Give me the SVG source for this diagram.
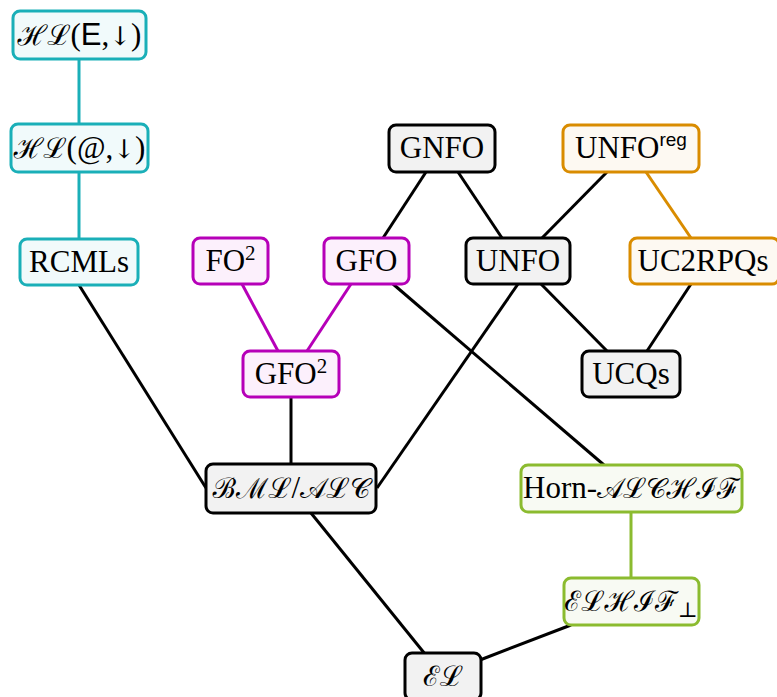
<svg xmlns="http://www.w3.org/2000/svg" width="777" height="697" viewBox="0 0 777 697">
<style>
.n rect{stroke-width:3}
.teal rect{stroke:#1AAFB8;fill:#F1FAFB}
.mag rect{stroke:#B600B8;fill:#FCF0FC}
.org rect{stroke:#D98C00;fill:#FDF9F2}
.grn rect{stroke:#8BBB2F;fill:#F8FAF3}
.gry rect{stroke:#000;fill:#F2F2F2}
text{font-family:"Liberation Serif","DejaVu Serif",serif;font-size:31px;fill:#000;text-anchor:middle}
.cal{font-family:"DejaVu Serif","Noto Sans","DejaVu Sans",serif;font-size:28px}
.sf{font-family:"Liberation Sans","DejaVu Sans",sans-serif}
.ar{font-family:"DejaVu Serif",serif;font-size:26px}
#edges line{stroke-width:3;stroke-linecap:butt}
.k{stroke:#000}
.t{stroke:#1AAFB8}
.m{stroke:#B600B8}
.o{stroke:#D98C00}
.g{stroke:#8BBB2F}
</style>
<g id="edges">
<line class="t" x1="79" y1="59" x2="79" y2="124"/>
<line class="t" x1="79" y1="172" x2="79" y2="239"/>
<line class="k" x1="79" y1="285" x2="206" y2="488"/>
<line class="m" x1="242" y1="284" x2="278" y2="351"/>
<line class="m" x1="351" y1="284" x2="307" y2="351"/>
<line class="k" x1="291" y1="397" x2="291" y2="464"/>
<line class="k" x1="426" y1="172" x2="383" y2="238"/>
<line class="k" x1="458" y1="172" x2="502" y2="238"/>
<line class="k" x1="607" y1="172" x2="542" y2="238"/>
<line class="o" x1="646" y1="172" x2="691" y2="238"/>
<line class="k" x1="541" y1="284" x2="607" y2="351"/>
<line class="k" x1="691" y1="284" x2="647" y2="351"/>
<line class="k" x1="393" y1="284" x2="604" y2="465"/>
<line class="k" x1="518" y1="284" x2="377" y2="488"/>
<line class="g" x1="631" y1="512" x2="631" y2="578"/>
<line class="k" x1="311" y1="513" x2="425" y2="654"/>
<line class="k" x1="571" y1="625" x2="480" y2="660"/>
</g>
<g id="hle" class="n teal"><rect x="13" y="11" width="133" height="48" rx="7"/><text x="79.5" y="45"><tspan class="cal">ℋℒ</tspan>(<tspan class="sf">E</tspan>,<tspan class="ar">↓</tspan>)</text></g>
<g id="hla" class="n teal"><rect x="11" y="124" width="137" height="48" rx="7"/><text x="79.5" y="158"><tspan class="cal">ℋℒ</tspan>(@,<tspan class="ar">↓</tspan>)</text></g>
<g id="rcml" class="n teal"><rect x="20" y="239" width="118" height="46" rx="7"/><text x="79" y="272">RCMLs</text></g>
<g id="fo2" class="n mag"><rect x="193" y="238" width="75" height="46" rx="7"/><text x="230.5" y="271">FO<tspan font-size="21" dy="-11">2</tspan></text></g>
<g id="gfo" class="n mag"><rect x="324" y="238" width="85" height="46" rx="7"/><text x="366.5" y="271">GFO</text></g>
<g id="gnfo" class="n gry"><rect x="389" y="125" width="106" height="47" rx="7"/><text x="442" y="158">GNFO</text></g>
<g id="unfo" class="n gry"><rect x="466" y="238" width="104" height="46" rx="7"/><text x="518" y="271">UNFO</text></g>
<g id="gfo2" class="n mag"><rect x="243" y="351" width="96" height="46" rx="7"/><text x="291" y="384">GFO<tspan font-size="21" dy="-11">2</tspan></text></g>
<g id="unforeg" class="n org"><rect x="563" y="125" width="136" height="47" rx="7"/><text x="631" y="158">UNFO<tspan class="sf" font-size="19" dy="-12">reg</tspan></text></g>
<g id="uc2rpqs" class="n org"><rect x="630" y="238" width="149" height="46" rx="7"/><text x="703" y="271">UC2RPQs</text></g>
<g id="ucqs" class="n gry"><rect x="582" y="351" width="98" height="46" rx="7"/><text x="631" y="384">UCQs</text></g>
<g id="bml" class="n gry"><rect x="206" y="464" width="170" height="49" rx="7"/><text x="291" y="498"><tspan class="cal">ℬℳℒ</tspan>/<tspan class="cal">𝒜ℒ𝒞</tspan></text></g>
<g id="horn" class="n grn"><rect x="521" y="465" width="221" height="47" rx="7"/><text x="631.5" y="498">Horn-<tspan class="cal">𝒜ℒ𝒞ℋℐℱ</tspan></text></g>
<g id="elhif" class="n grn"><rect x="564" y="578" width="135" height="47" rx="7"/><text x="631" y="611"><tspan class="cal">ℰℒℋℐℱ</tspan><tspan font-size="21" dy="6">⊥</tspan></text></g>
<g id="el" class="n gry"><rect x="405" y="653" width="76" height="47" rx="7"/><text x="443" y="686"><tspan class="cal">ℰℒ</tspan></text></g>
</svg>
